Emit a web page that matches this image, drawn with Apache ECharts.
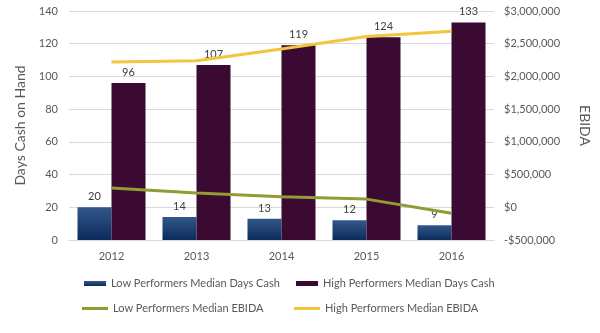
<!DOCTYPE html>
<html>
<head>
<meta charset="utf-8">
<script src="https://cdn.jsdelivr.net/npm/echarts@6/dist/echarts.min.js"></script>
<style>
  html, body { margin: 0; padding: 0; background: #fff; }
  #chart { width: 600px; height: 333px; }
</style>
</head>
<body>
<div id="chart"></div>
<script>
// Fiscal years on the category axis
const years = ['2012', '2013', '2014', '2015', '2016'];

// Median days cash on hand (left axis)
const lowDaysCash = [20, 14, 13, 12, 9];
const highDaysCash = [96, 107, 119, 124, 133];

// Median EBIDA in dollars (right axis)
const lowEbida = [295000, 218000, 160000, 125000, -92000];
const highEbida = [2220000, 2240000, 2420000, 2610000, 2690000];

const FONT = 'Lato';
const AXIS_TEXT = '#595959';
const GRID_LINE = '#d9d9d9';

function dollars(v) {
  const s = Math.abs(v).toLocaleString('en-US');
  return (v < 0 ? '-$' : '$') + s;
}

const chart = echarts.init(document.getElementById('chart'), null, { renderer: 'canvas' });

const legendText = { color: AXIS_TEXT, fontFamily: FONT, fontSize: 11 };

chart.setOption({
  animation: false,
  textStyle: { fontFamily: FONT },
  grid: { left: 69, right: 93.5, top: 11, bottom: 93, containLabel: false },
  legend: [
    { data: ['Low Performers Median Days Cash'], left: 84, top: 278, itemWidth: 22, itemHeight: 5, itemGap: 3, icon: 'rect', textStyle: legendText, padding: 0 },
    { data: ['High Performers Median Days Cash'], left: 296, top: 278, itemWidth: 22, itemHeight: 5, icon: 'rect', textStyle: legendText, padding: 0 },
    { data: ['Low Performers Median EBIDA'], left: 82, top: 303, itemWidth: 26, itemHeight: 3, icon: 'rect', textStyle: legendText, padding: 0 },
    { data: ['High Performers Median EBIDA'], left: 294, top: 303, itemWidth: 26, itemHeight: 3, icon: 'rect', textStyle: legendText, padding: 0 }
  ],
  xAxis: {
    type: 'category',
    data: years,
    axisTick: { show: false },
    axisLine: { lineStyle: { color: GRID_LINE, width: 1 } },
    axisLabel: { color: AXIS_TEXT, fontSize: 11, margin: 11 }
  },
  yAxis: [
    {
      type: 'value',
      min: 0, max: 140, interval: 20,
      name: 'Days Cash on Hand',
      nameLocation: 'middle',
      nameGap: 31,
      nameTextStyle: { color: AXIS_TEXT, fontSize: 14 },
      axisLine: { show: false },
      axisTick: { show: false },
      axisLabel: { color: AXIS_TEXT, fontSize: 11, margin: 11 },
      splitLine: { lineStyle: { color: GRID_LINE, width: 1 } }
    },
    {
      type: 'value',
      position: 'right',
      min: -500000, max: 3000000, interval: 500000,
      name: 'EBIDA',
      nameLocation: 'middle',
      nameGap: 84,
      nameRotate: -90,
      nameTextStyle: { color: AXIS_TEXT, fontSize: 14 },
      axisLine: { show: false },
      axisTick: { show: false },
      axisLabel: { color: AXIS_TEXT, fontSize: 11, margin: 10, formatter: dollars },
      splitLine: { show: false }
    }
  ],
  series: [
    {
      name: 'Low Performers Median Days Cash',
      type: 'bar',
      yAxisIndex: 0,
      data: lowDaysCash,
      barGap: '0%',
      barCategoryGap: '20%',
      itemStyle: {
        color: new echarts.graphic.LinearGradient(0, 0, 0, 1, [
          { offset: 0, color: '#33578a' },
          { offset: 1, color: '#0b2b5c' }
        ])
      },
      label: { show: true, position: 'top', distance: 5, color: '#404040', fontSize: 11 }
    },
    {
      name: 'High Performers Median Days Cash',
      type: 'bar',
      yAxisIndex: 0,
      data: highDaysCash,
      itemStyle: { color: '#3a0a33' },
      label: { show: true, position: 'top', distance: 5, color: '#404040', fontSize: 11 }
    },
    {
      name: 'Low Performers Median EBIDA',
      type: 'line',
      yAxisIndex: 1,
      data: lowEbida,
      showSymbol: false,
      symbol: 'none',
      lineStyle: { color: '#949b32', width: 3 },
      itemStyle: { color: '#949b32' }
    },
    {
      name: 'High Performers Median EBIDA',
      type: 'line',
      yAxisIndex: 1,
      data: highEbida,
      showSymbol: false,
      symbol: 'none',
      lineStyle: { color: '#f2c53d', width: 3 },
      itemStyle: { color: '#f2c53d' }
    }
  ]
});
</script>
</body>
</html>
